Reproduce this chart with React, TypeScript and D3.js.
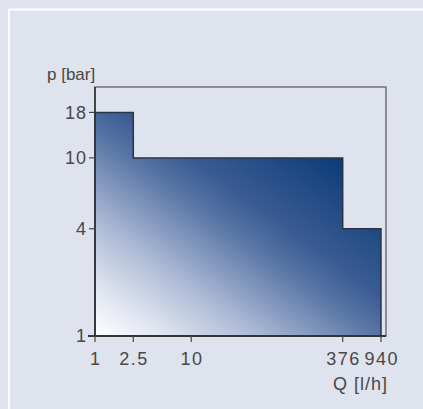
import * as d3 from "d3";

// step boundaries of the operating range
const flowPoints = [1, 2.5, 376, 940];
const pressurePoints = [18, 10, 4, 4];
const xTickValues = [1, 2.5, 10, 376, 940];
const yTickValues = [1, 4, 10, 18];
const xTickLabels = ["1", "2.5", "10", "376", "940"];
const yTickLabels = ["1", "4", "10", "18"];

const W = 423, H = 409;
const m = { top: 87, right: 37, bottom: 73, left: 95 };

export default function App() {
  const x = d3.scaleLog().domain([1, 1060]).range([m.left, W - m.right]);
  const y = d3.scaleLog().domain([1, 25]).range([H - m.bottom, m.top]);

  const pts = flowPoints.map((q, i) => ({ q, p: pressurePoints[i] }));
  const area = d3.area<{ q: number; p: number }>()
    .x(d => x(d.q))
    .y0(y(1))
    .y1(d => y(d.p))
    .curve(d3.curveStepAfter);

  const font = "'Liberation Sans', Arial, sans-serif";
  const txt = "#484848";
  const x0 = x.range()[0], x1 = x.range()[1];
  const yb = y.range()[0], yt = y.range()[1];

  return (
    <svg width={W} height={H} style={{ position: "absolute", left: 0, top: 0, display: "block" }}>
      <defs>
        {/* shading runs from bottom-left (white) up toward the top-right */}
        <linearGradient id="fillGrad" gradientUnits="userSpaceOnUse"
          x1={x(1)} y1={y(1)} x2={x(1) + 177} y2={y(1) - 248}>
          <stop offset="0" stopColor="#ffffff" />
          <stop offset="0.12" stopColor="#e4e8f2" />
          <stop offset="0.3" stopColor="#b0bdd7" />
          <stop offset="0.55" stopColor="#5673a4" />
          <stop offset="0.65" stopColor="#3b5c93" />
          <stop offset="0.95" stopColor="#0b3b76" />
          <stop offset="1" stopColor="#08366f" />
        </linearGradient>
      </defs>
      <rect width={W} height={H} fill="#dfe3ee" />
      {/* panel edges */}
      <line x1={8} x2={W} y1={9.5} y2={9.5} stroke="#fff" strokeWidth={2} />
      <line x1={9} x2={9} y1={9} y2={H} stroke="#fff" strokeWidth={2} />

      {/* frame */}
      <rect x={x0} y={yt} width={x1 - x0} height={yb - yt} fill="none" stroke="#555" strokeWidth={1.2} />

      <path d={area(pts) ?? ""} fill="url(#fillGrad)" stroke="#2a3448" strokeWidth={1.5} />

      {/* axes */}
      <line x1={x0} x2={x0} y1={yt} y2={yb} stroke="#333" strokeWidth={1.6} />
      <line x1={x0 - 7} x2={x1} y1={yb} y2={yb} stroke="#333" strokeWidth={2} />

      {yTickValues.map((v, i) => (
        <g key={"y" + v}>
          <line x1={x0 - 6} x2={x0} y1={y(v)} y2={y(v)} stroke="#444" strokeWidth={1.2} />
          <text x={x0 - 8} y={y(v)} dy="0.36em" textAnchor="end" fontFamily={font} fontSize={18}
            letterSpacing={1} fill={txt}>
            {yTickLabels[i]}
          </text>
        </g>
      ))}
      {xTickValues.map((v, i) => (
        <g key={"x" + v}>
          <line x1={x(v)} x2={x(v)} y1={yb} y2={yb + 6} stroke="#444" strokeWidth={1.2} />
          <text x={x(v) + 0.75} y={yb + 29} textAnchor="middle" fontFamily={font} fontSize={18}
            letterSpacing={1.5} fill={txt}>
            {xTickLabels[i]}
          </text>
        </g>
      ))}

      <text x={47} y={80} fontFamily={font} fontSize={17} fill={txt}>p [bar]</text>
      <text x={x1 + 2} y={390} textAnchor="end" fontFamily={font} fontSize={18} letterSpacing={1}
        fill={txt}>Q [l/h]</text>
    </svg>
  );
}
